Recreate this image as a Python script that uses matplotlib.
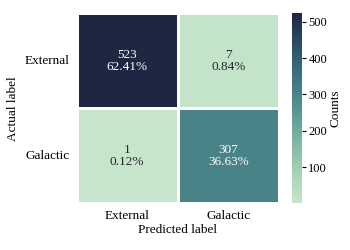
import numpy as np
import matplotlib.pyplot as plt
import seaborn as sns
from matplotlib.colors import LinearSegmentedColormap

labels = ["External", "Galactic"]
counts = np.array([[523, 7], [1, 307]])
percents = ["62.41%", "0.84%", "0.12%", "36.63%"]

plt.rcParams["font.family"] = ["Liberation Serif", "DejaVu Serif"]

annot = np.array([f"{c}\n{p}" for c, p in zip(counts.flatten(), percents)]).reshape(2, 2)
cmap = LinearSegmentedColormap.from_list(
    "mint_navy", ["#c6e5cb", "#a3d2b3", "#7bb6a0", "#56928f", "#3e737f", "#2d5067", "#1e2742"])

fig = plt.figure(figsize=(3.5, 2.5), dpi=100)
ax = fig.add_axes([0.219, 0.187, 0.578, 0.76])
cax = fig.add_axes([0.834, 0.187, 0.029, 0.76])
sns.heatmap(counts, annot=annot, fmt="", cmap=cmap, linewidths=0.75, linecolor="white",
            xticklabels=labels, yticklabels=labels, ax=ax, cbar_ax=cax,
            annot_kws={"fontsize": 9.5, "linespacing": 0.95})
ax.set_xlabel("Predicted label", fontsize=9.5, labelpad=1)
ax.set_ylabel("Actual label", fontsize=9.5, labelpad=4)
ax.tick_params(labelsize=9.5, length=0, pad=5)
ax.set_yticklabels(labels, rotation=0)
cax.tick_params(labelsize=9, length=3, pad=1.5)
cax.set_ylabel("Counts", fontsize=9.5, labelpad=2)
cax.yaxis.set_ticks([100, 200, 300, 400, 500])

fig.savefig("out.png", dpi=100)
